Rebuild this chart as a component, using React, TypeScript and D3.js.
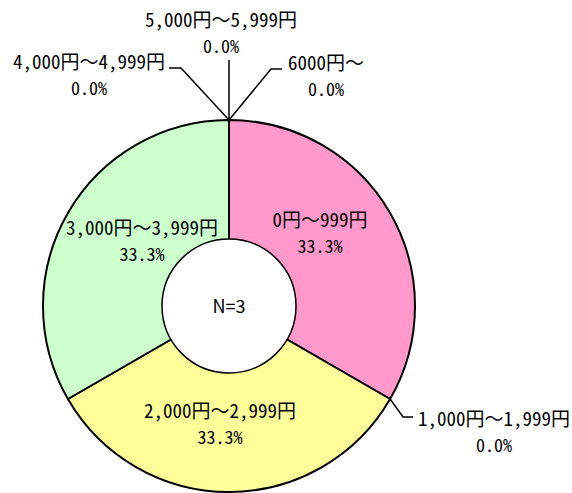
import React from "react";
import * as d3 from "d3";

const categories = [
  "0円～999円",
  "1,000円～1,999円",
  "2,000円～2,999円",
  "3,000円～3,999円",
  "4,000円～4,999円",
  "5,000円～5,999円",
  "6000円～",
];
const counts = [1, 0, 1, 1, 0, 0, 0];
const colors = ["#FF99CC", "#FFFFFF", "#FFFF99", "#CCFFCC", "#FFFFFF", "#FFFFFF", "#FFFFFF"];

// label layout (styling): inside labels get offset from centroid; zero slices get leader lines
const insideOffset: Record<number, [number, number]> = {
  0: [-13, -19],
  2: [-9, -8],
  3: [17, -11],
};
const leaders: Record<number, { v: [number, number]; h: number; t: [number, number] }> = {
  1: { v: [13, 18], h: 10, t: [81, 9] },
  4: { v: [-48, -52], h: -12, t: [-80, 1] },
  5: { v: [0, -60], h: 0, t: [-8, -33] },
  6: { v: [42, -51], h: 11, t: [44, 1] },
};

const W = 572;
const H = 493;
const cx = 229;
const cy = 306;
const R = 186;
const r0 = 67;
const FONT = "'Noto Sans Mono CJK JP', 'Noto Sans CJK JP', sans-serif";

export default function App() {
  const total = d3.sum(counts);
  const pie = d3.pie<number>().sort(null).value((d) => d)(counts);
  const arc = d3.arc<d3.PieArcDatum<number>>().innerRadius(0).outerRadius(R);
  const labelArc = d3.arc<d3.PieArcDatum<number>>().innerRadius(120).outerRadius(120);
  const pct = (v: number) => ((v / total) * 100).toFixed(1) + "%";

  return (
    <svg width={W} height={H} style={{ position: "absolute", left: 0, top: 0 }} fontFamily={FONT}>
      <g transform={`translate(${cx},${cy})`}>
        {pie.map((p, i) =>
          p.endAngle > p.startAngle ? (
            <path key={i} d={arc(p) || ""} fill={colors[i]} stroke="#000" strokeWidth={2} strokeLinejoin="round" />
          ) : null
        )}
        <circle r={r0} fill="#fff" stroke="#000" strokeWidth={1.5} />
        <text y={7} textAnchor="middle" fontSize={18} fill="#000" fontFamily="'Noto Sans CJK JP', 'Noto Sans', sans-serif">{`N=${total}`}</text>
        {pie.map((p, i) => {
          if (p.endAngle > p.startAngle) {
            const [x, y] = labelArc.centroid(p);
            const [dx, dy] = insideOffset[i] || [0, 0];
            return (
              <g key={"l" + i} fontSize={19} textAnchor="middle" fill="#000">
                <text x={x + dx} y={y + dy}>{categories[i]}</text>
                <text x={x + dx} y={y + dy + 26} fontSize={18}>{pct(counts[i])}</text>
              </g>
            );
          }
          const L = leaders[i];
          const a = p.startAngle;
          const sx = Math.sin(a) * R;
          const sy = -Math.cos(a) * R;
          const ex = sx + L.v[0];
          const ey = sy + L.v[1];
          const hx = ex + L.h;
          const tx = hx + L.t[0];
          const ty = ey + L.t[1];
          return (
            <g key={"l" + i}>
              <polyline points={`${sx},${sy} ${ex},${ey} ${hx},${ey}`} fill="none" stroke="#000" strokeWidth={1.5} />
              <g fontSize={19} textAnchor="middle" fill="#000">
                <text x={tx} y={ty}>{categories[i]}</text>
                <text x={tx} y={ty + 26} fontSize={18}>{pct(counts[i])}</text>
              </g>
            </g>
          );
        })}
      </g>
    </svg>
  );
}
